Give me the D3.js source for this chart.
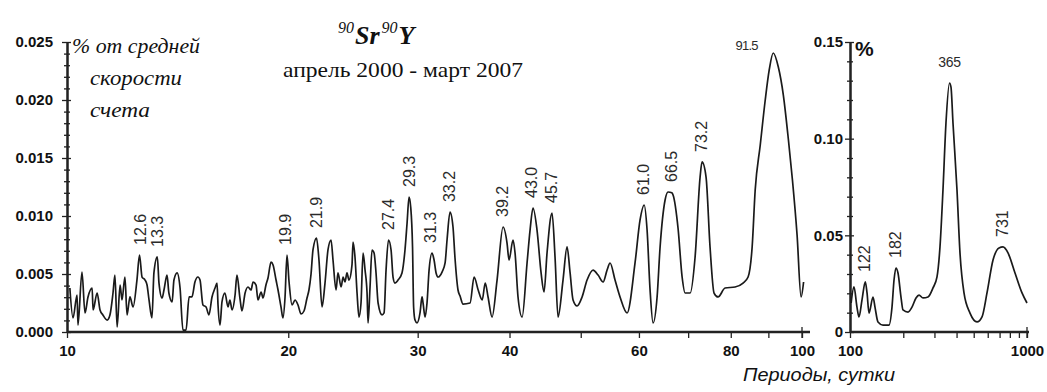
<!DOCTYPE html>
<html>
<head>
<meta charset="utf-8">
<script src="https://cdn.jsdelivr.net/npm/d3@7"></script>
<style>
  body { margin: 0; background: #fff; }
  svg { display: block; }
  .axis path, .axis line { stroke: #222; }
  .axis text { font-family: "Liberation Sans", Arial, sans-serif; font-weight: bold; font-size: 15px; fill: #111; }
</style>
</head>
<body>
<svg id="chart" width="1047" height="392"></svg>
<script>
// spectrum 10..100 days (% of mean count rate)
const leftPeriods = [10.09,10.19,10.32,10.35,10.48,10.58,10.68,10.82,10.85,10.99,11.09,11.19,11.34,11.44,11.55,11.62,11.70,11.81,11.88,11.99,
  12.07,12.18,12.30,12.45,12.55,12.65,12.77,12.85,12.93,13.05,13.13,13.27,13.34,13.47,13.55,13.68,13.76,13.90,13.98,14.12,
  14.25,14.38,14.52,14.66,14.79,14.93,15.07,15.17,15.31,15.46,15.60,15.75,15.90,16.00,16.05,16.15,16.25,16.40,16.56,16.66,
  16.77,16.93,17.03,17.19,17.30,17.47,17.63,17.80,17.91,18.08,18.19,18.37,18.48,18.65,18.77,18.95,19.07,19.25,19.37,19.55,
  19.67,19.80,19.92,20.05,20.24,20.43,20.62,20.82,21.01,21.21,21.34,21.48,21.61,21.85,22.02,22.23,22.44,22.65,22.87,23.01,
  23.23,23.37,23.60,23.75,23.89,24.04,24.19,24.42,24.50,24.65,24.81,24.96,25.12,25.28,25.44,25.60,25.68,25.84,26.00,26.17,
  26.33,26.50,26.83,27.00,27.17,27.38,27.60,27.77,27.94,28.21,28.56,28.83,29.02,29.20,29.35,29.52,29.62,29.75,29.94,30.22,
  30.41,30.51,30.70,30.89,31.09,31.38,31.58,31.78,31.98,32.38,32.69,32.89,33.20,33.51,33.72,34.04,34.26,34.58,35.35,35.80,
  36.26,36.72,37.07,37.40,37.87,38.47,39.20,39.69,39.94,40.44,40.70,41.08,41.61,42.26,42.66,43.06,43.60,44.16,44.57,44.99,
  45.70,46.13,46.57,47.30,47.90,48.36,48.81,49.43,50.21,51.00,51.97,52.79,53.63,54.30,54.81,55.67,56.55,57.81,59.27,60.21,
  60.99,61.55,62.13,62.72,63.51,64.11,65.12,65.73,66.50,66.77,67.83,68.69,69.34,70.44,71.54,72.67,73.12,74.04,74.97,75.92,
  76.88,78.59,81.09,83.14,84.46,85.54,86.36,87.74,89.12,90.24,91.39,92.85,94.32,95.84,97.05,98.47,99.71,100.5];
const leftValues = [3.79,1.21,3.19,0.60,5.17,1.64,3.02,3.79,1.90,3.36,1.90,1.47,1.03,1.47,3.36,4.91,0.43,4.05,2.76,4.74,
  1.47,3.02,2.16,4.48,6.64,4.74,4.48,4.05,2.76,1.21,5.09,6.47,4.22,2.93,3.62,4.91,3.36,2.59,4.48,5.09,
  3.79,0.17,0.17,3.02,3.02,4.31,4.74,4.48,2.33,2.16,1.47,3.02,3.79,4.22,2.33,0.60,2.59,3.36,2.16,2.76,
  1.90,3.19,4.91,2.93,1.81,3.36,3.88,3.62,4.31,4.05,2.76,3.45,2.93,4.05,4.66,6.03,5.78,4.48,3.62,2.16,
  1.21,3.02,6.64,4.31,2.33,2.76,2.33,1.55,1.81,2.93,3.62,5.00,7.07,8.10,6.21,2.16,4.22,7.07,7.93,6.21,
  3.62,5.09,3.88,4.74,4.31,5.09,4.48,5.78,7.76,6.47,3.36,1.29,2.50,6.81,5.34,3.36,0.78,3.88,7.07,6.81,
  5.09,2.50,1.47,1.64,5.34,7.93,7.07,4.74,4.22,4.48,5.09,7.07,9.40,11.64,10.78,7.33,2.16,1.03,0.78,1.64,
  3.02,2.50,1.29,2.50,5.34,6.81,6.21,5.09,4.74,5.17,5.95,7.93,10.34,9.05,6.38,3.62,3.10,2.41,2.50,4.74,
  3.62,2.76,4.22,3.02,1.29,4.48,9.05,7.67,6.21,7.93,6.81,3.02,1.29,5.95,8.79,10.69,8.79,5.09,3.45,6.81,
  10.26,6.47,1.29,4.48,7.33,5.09,2.76,2.24,3.02,4.48,5.34,4.91,4.31,5.34,5.95,4.48,3.02,1.64,5.95,9.66,
  10.95,8.79,3.62,0.78,3.02,7.33,11.38,12.07,12.00,11.81,8.90,4.74,3.36,3.36,6.47,13.36,14.66,13.36,7.33,3.36,
  3.02,3.79,3.88,4.22,4.74,7.33,12.24,16.12,20.00,22.59,24.05,22.84,20.43,16.55,13.10,8.36,3.02,4.31].map(v => v / 1000);

// spectrum 100..1000 days
const rightPeriods = [101.5,105.3,109.5,112.4,116.9,122.0,124.8,128.0,134.9,138.4,143.9,153.6,166.1,172.7,177.3,181.9,186.7,194.1,199.3,212.7,
  224.0,236.0,245.4,258.5,275.9,294.4,310.1,322.4,335.2,348.5,365.0,372.0,381.8,402.2,418.2,440.6,476.4,521.9,557.0,594.3,
  642.7,694.9,731.8,781.1,855.6,937.1,1000];
const rightValues = [15.0,23.3,12.9,7.8,16.6,25.9,20.2,9.8,18.1,12.9,5.2,3.6,3.6,12.9,26.9,33.1,30.5,18.1,11.4,10.3,
  12.9,17.6,19.1,17.6,18.1,22.8,28.5,44.0,73.5,108.1,128.8,126.7,108.1,73.5,40.9,20.2,9.8,5.2,7.8,20.2,
  37.2,43.5,44.0,40.9,30.5,20.2,15.0].map(v => v / 1000);

const leftPeakLabels = ["12.6","13.3","19.9","21.9","27.4","29.3","31.3","33.2","39.2","43.0","45.7","61.0","66.5","73.2"];
const rightPeakLabels = ["122","182","731"];
const flatLabels = [["91.5", "left"], ["365", "right"]];

const leftXTicks = [10,20,30,40,50,60,70,80,90,100];
const leftXLabels = [10,20,30,40,60,80,100];
const rightXTicks = [100,200,300,400,500,600,700,800,900,1000];
const rightXLabels = [100,1000];
const leftYTicks = [0,0.005,0.010,0.015,0.020,0.025];
const rightYTicks = [0,0.05,0.10,0.15];

const svg = d3.select('#chart');
svg.append('rect').attr('width', 1047).attr('height', 392).attr('fill', '#fff');

const xL = d3.scaleLog().domain([10, 100]).range([67, 802]);
const yL = d3.scaleLinear().domain([0, 0.025]).range([332, 42]);
const xR = d3.scaleLog().domain([100, 1000]).range([850, 1027]);
const yR = d3.scaleLinear().domain([0, 0.15]).range([332, 42]);

function yAxis(x0, scale, ticks, step, fmt, pad) {
  const minor = d3.range(step, scale.domain()[1], step)
    .filter(m => !ticks.some(t => Math.abs(t - m) < step / 10));
  const g = svg.append('g').attr('class', 'axis').attr('transform', `translate(${x0},0)`);
  g.call(d3.axisLeft(scale).tickValues(ticks).tickSize(5).tickSizeOuter(0).tickPadding(pad).tickFormat(fmt));
  g.append('g').call(d3.axisRight(scale).tickValues(ticks).tickSize(4).tickSizeOuter(0).tickFormat(''));
  g.append('g').call(d3.axisLeft(scale).tickValues(minor).tickSize(3).tickSizeOuter(0).tickFormat(''));
  g.append('g').call(d3.axisRight(scale).tickValues(minor).tickSize(3).tickSizeOuter(0).tickFormat(''));
  g.selectAll('path').attr('stroke-width', 1.6);
  g.selectAll('line').attr('stroke-width', 1.3);
}

function xAxis(scale, ticks, labels, extra) {
  const g = svg.append('g').attr('class', 'axis').attr('transform', 'translate(0,332)');
  g.call(d3.axisBottom(scale).tickValues(ticks).tickSize(6).tickSizeOuter(0).tickPadding(7)
    .tickFormat(d => labels.includes(d) ? d : ''));
  g.select('.domain').remove();
  const r = scale.range();
  g.append('line').attr('x1', r[0]).attr('x2', r[1] + extra).attr('y1', 0).attr('y2', 0)
    .attr('stroke', '#222').attr('stroke-width', 2.6);
  g.selectAll('.tick line').attr('stroke-width', 1.3);
  // last tick crosses the axis
  g.append('line').attr('x1', r[1]).attr('x2', r[1]).attr('y1', -5).attr('y2', 6)
    .attr('stroke', '#222').attr('stroke-width', 1.3);
}

yAxis(67, yL, leftYTicks, 0.001, d3.format('.3f'), 9);
yAxis(850, yR, rightYTicks, 0.01, d => d === 0 ? '0' : d3.format('.2f')(d), 2);
xAxis(xL, leftXTicks, leftXLabels, 8);
xAxis(xR, rightXTicks, rightXLabels, 2);

const lineL = d3.line().x(d => xL(d[0])).y(d => yL(d[1])).curve(d3.curveMonotoneX);
const lineR = d3.line().x(d => xR(d[0])).y(d => yR(d[1])).curve(d3.curveMonotoneX);

svg.append('path').datum(d3.zip(leftPeriods, leftValues)).attr('d', lineL)
  .attr('fill', 'none').attr('stroke', '#1a1a1a').attr('stroke-width', 1.7);
svg.append('path').datum(d3.zip(rightPeriods, rightValues)).attr('d', lineR)
  .attr('fill', 'none').attr('stroke', '#1a1a1a').attr('stroke-width', 1.7);

function peakValue(periods, values, p) {
  let best = 0;
  periods.forEach((q, i) => { if (Math.abs(q / p - 1) < 0.02 && values[i] > best) best = values[i]; });
  return best;
}

function rotatedLabels(labels, periods, values, xs, ys) {
  svg.append('g').selectAll('text').data(labels).enter().append('text')
    .attr('transform', d => `translate(${xs(+d) - 1},${ys(peakValue(periods, values, +d)) - 10}) rotate(-90)`)
    .attr('dy', '0.36em')
    .attr('font-family', '"Liberation Sans", Arial, sans-serif')
    .attr('font-size', 16)
    .attr('fill', '#2a2a2a')
    .text(d => d);
}
rotatedLabels(leftPeakLabels, leftPeriods, leftValues, xL, yL);
rotatedLabels(rightPeakLabels, rightPeriods, rightValues, xR, yR);

flatLabels.forEach(([t, side]) => {
  const xs = side === 'left' ? xL : xR, ys = side === 'left' ? yL : yR;
  const pv = side === 'left' ? peakValue(leftPeriods, leftValues, +t) : peakValue(rightPeriods, rightValues, +t);
  svg.append('text')
    .attr('x', xs(+t) - 27 * (side === 'left')).attr('y', ys(pv) - (side === 'left' ? 3 : 16))
    .attr('text-anchor', 'middle')
    .attr('font-family', '"Liberation Sans", Arial, sans-serif')
    .attr('font-size', side === 'left' ? 13 : 14)
    .attr('letter-spacing', side === 'left' ? -0.8 : -0.3)
    .attr('fill', '#2a2a2a')
    .text(t);
});

// unit label, left
const serif = '"Liberation Serif", "Times New Roman", serif';
[["% от средней", 72, 53, 128], ["скорости", 90, 85, 92], ["счета", 90, 117, 60]].forEach(([t, x, y, w]) => {
  svg.append('text').attr('x', x).attr('y', y)
    .attr('font-family', serif).attr('font-style', 'italic').attr('font-size', 21)
    .attr('textLength', w).attr('lengthAdjust', 'spacingAndGlyphs')
    .attr('fill', '#111').text(t);
});

// title
const title = svg.append('text').attr('x', 338).attr('y', 44)
  .attr('font-family', serif).attr('font-style', 'italic').attr('fill', '#111');
title.append('tspan').attr('font-size', 16).attr('dy', -11).text('90');
title.append('tspan').attr('font-size', 26).attr('font-weight', 'bold').attr('dy', 11).attr('dx', 1).text('Sr');
title.append('tspan').attr('font-size', 16).attr('dy', -11).attr('dx', 2).text('90');
title.append('tspan').attr('font-size', 26).attr('font-weight', 'bold').attr('dy', 11).attr('dx', 1).text('Y');

svg.append('text').attr('x', 283).attr('y', 77)
  .attr('font-family', serif).attr('font-size', 22)
  .attr('textLength', 240).attr('lengthAdjust', 'spacingAndGlyphs')
  .attr('fill', '#111').text('апрель 2000 - март 2007');

svg.append('text').attr('x', 855).attr('y', 56)
  .attr('font-family', '"Liberation Sans", Arial, sans-serif').attr('font-weight', 'bold').attr('font-size', 21)
  .attr('fill', '#111').text('%');

svg.append('text').attr('x', 743).attr('y', 381)
  .attr('font-family', '"Liberation Sans", Arial, sans-serif').attr('font-style', 'italic').attr('font-size', 18)
  .attr('textLength', 152).attr('lengthAdjust', 'spacingAndGlyphs')
  .attr('fill', '#111').text('Периоды, сутки');
</script>
</body>
</html>
